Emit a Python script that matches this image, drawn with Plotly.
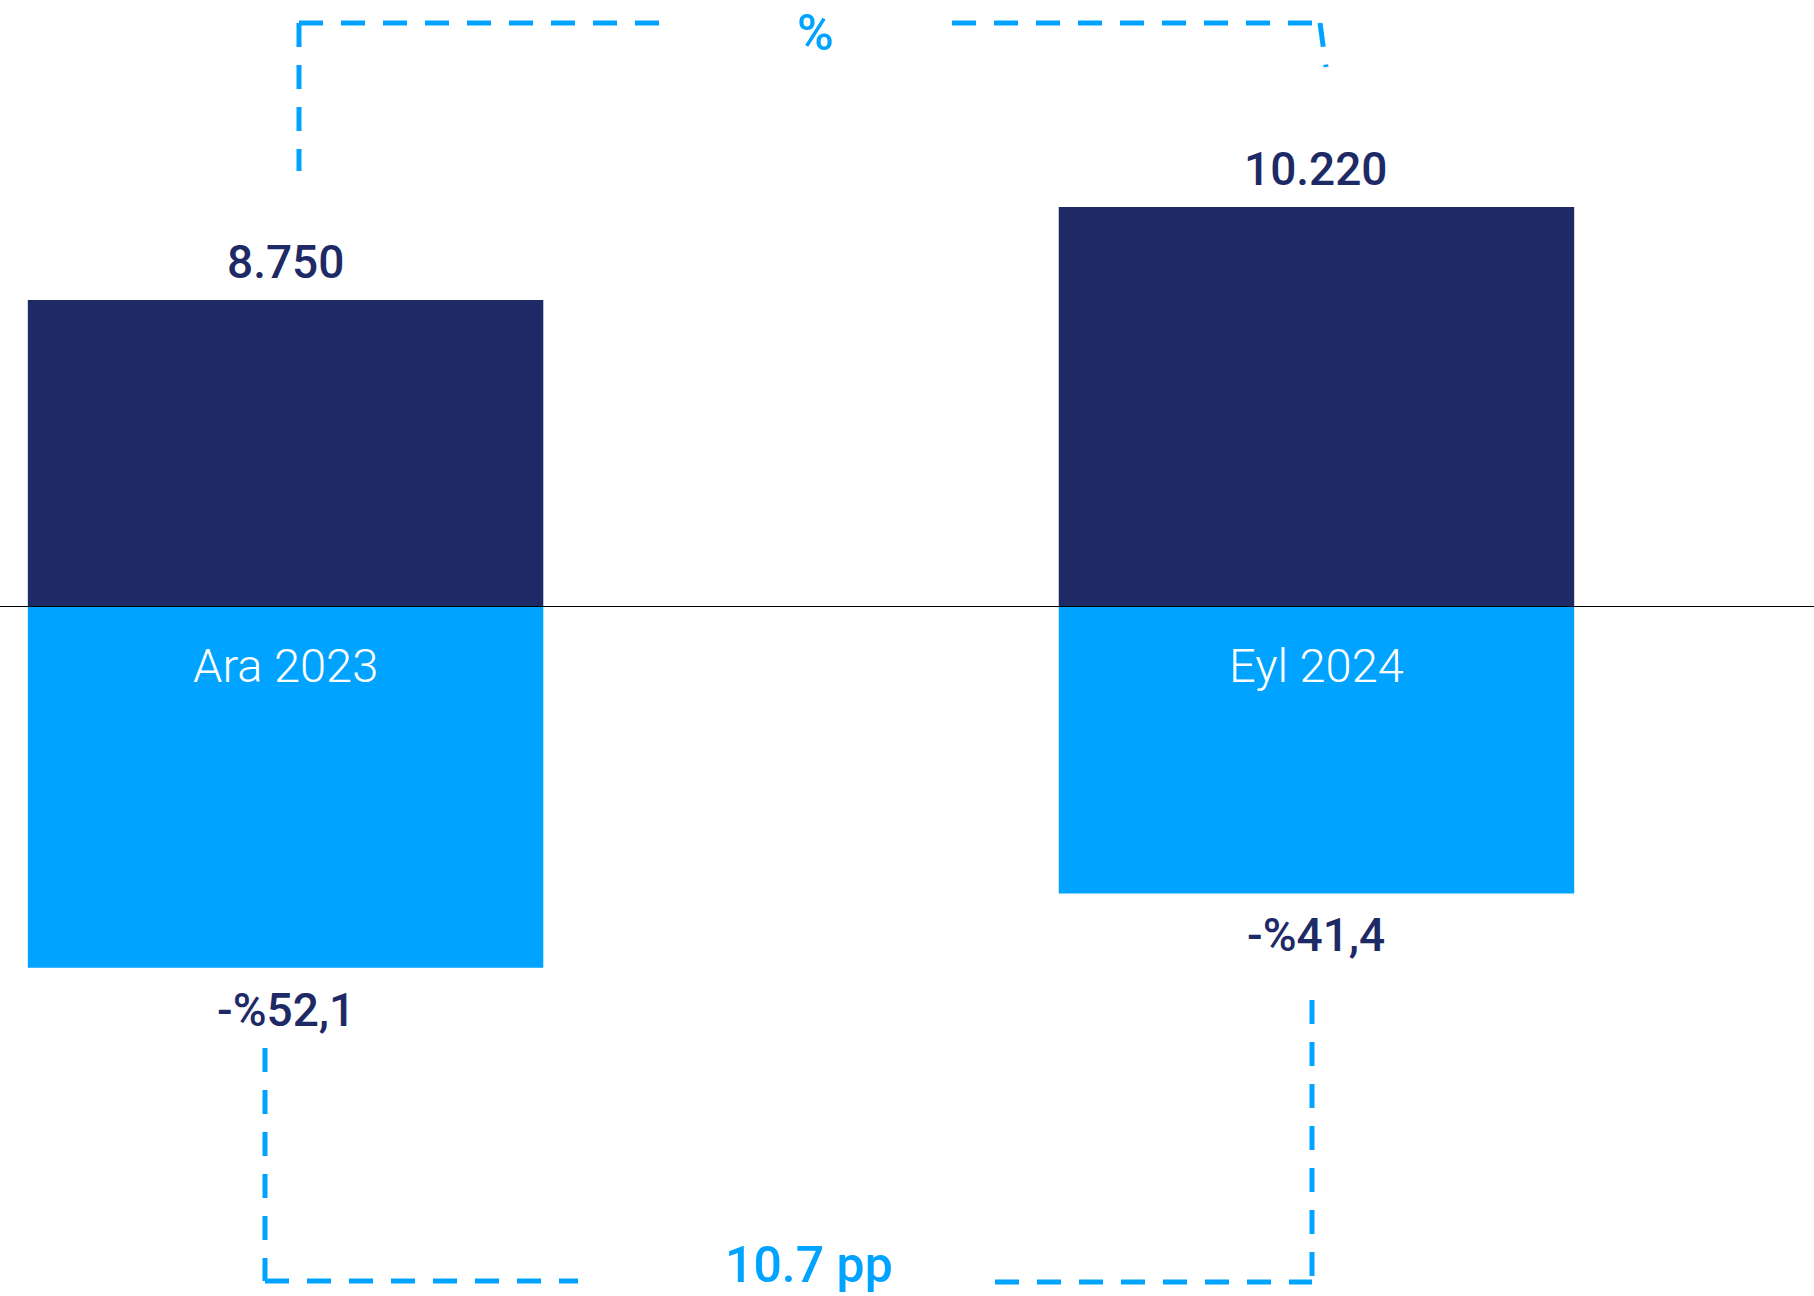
import plotly.graph_objects as go

# ---- data ----
categories = ["Ara 2023", "Eyl 2024"]
top_values = [8750, 10220]
top_labels = ["8.750", "10.220"]
bottom_values = [-52.1, -41.4]
bottom_labels = ["-%52,1", "-%41,4"]
top_change_label = "%"
bottom_change_label = "10.7 pp"

W, H = 1814, 1296
NAVY = "#1E2A66"
BLUE = "#00A3FF"
FONT = "Roboto"
split = 1 - 606 / H  # paper y of the zero line

def px(x, y):
    return x / W, 1 - y / H

fig = go.Figure()
fig.add_trace(go.Bar(x=categories, y=top_values, width=0.5, marker=dict(color=NAVY, line=dict(width=0)),
                     xaxis="x", yaxis="y", hoverinfo="skip"))
fig.add_trace(go.Bar(x=categories, y=bottom_values, width=0.5, marker=dict(color=BLUE, line=dict(width=0)),
                     xaxis="x2", yaxis="y2", hoverinfo="skip"))

annotations = []
for c, v, t in zip(categories, top_values, top_labels):
    annotations.append(dict(x=c, y=v, xref="x", yref="y", text=t, showarrow=False, yanchor="middle",
                            yshift=38, font=dict(family=FONT, size=46, color=NAVY, weight=500)))
for c, v, t in zip(categories, bottom_values, bottom_labels):
    annotations.append(dict(x=c, y=v, xref="x2", yref="y2", text=t, showarrow=False, yanchor="middle",
                            yshift=-42, font=dict(family=FONT, size=46, color=NAVY, weight=500)))
for c in categories:
    annotations.append(dict(x=c, y=0, xref="x2", yref="y2", text=c, showarrow=False, yanchor="middle",
                            yshift=-59, font=dict(family=FONT, size=47, color="white", weight=300)))
ax, ay = px(815, 33)
annotations.append(dict(x=ax, y=ay, xref="paper", yref="paper", text=top_change_label, showarrow=False,
                        xanchor="center", yanchor="middle", font=dict(family=FONT, size=50, color=BLUE, weight=500)))
ax, ay = px(809, 1265)
annotations.append(dict(x=ax, y=ay, xref="paper", yref="paper", text=bottom_change_label, showarrow=False,
                        xanchor="center", yanchor="middle", font=dict(family=FONT, size=50, color=BLUE, weight=500)))

# decorative dashed brackets (pixel segments, each starting at its dash origin)
segments = [
    ((299, 23), (299, 171)),
    ((299, 23), (659, 23)),
    ((952, 23), (1320, 23)),
    ((1320, 23), (1326, 67)),
    ((265, 1048), (265, 1281)),
    ((265, 1281), (578, 1281)),
    ((995, 1282), (1312, 1282)),
    ((1312, 1000), (1312, 1281)),
]
shapes = []
for (x0, y0), (x1, y1) in segments:
    a0, b0 = px(x0, y0)
    a1, b1 = px(x1, y1)
    shapes.append(dict(type="line", xref="paper", yref="paper", x0=a0, y0=b0, x1=a1, y1=b1,
                       line=dict(color=BLUE, width=5, dash="24px,18px")))
shapes.append(dict(type="line", xref="paper", yref="y2", x0=0, x1=1, y0=0, y1=0,
                   line=dict(color="#000000", width=2), layer="above"))

xr = [-0.277, 1.4826]
fig.update_layout(
    width=W, height=H, margin=dict(l=0, r=0, t=0, b=0),
    paper_bgcolor="white", plot_bgcolor="white", showlegend=False, barmode="relative",
    xaxis=dict(domain=[0, 1], range=xr, anchor="y", visible=False),
    xaxis2=dict(domain=[0, 1], range=xr, anchor="y2", visible=False),
    yaxis=dict(domain=[split, 1], range=[3914, 13492], visible=False),
    yaxis2=dict(domain=[0, split], range=[-99.4, 0], visible=False),
    annotations=annotations, shapes=shapes,
)
fig.write_html("out.html", config={"displayModeBar": False},
               post_script="document.body.style.margin='0';")
